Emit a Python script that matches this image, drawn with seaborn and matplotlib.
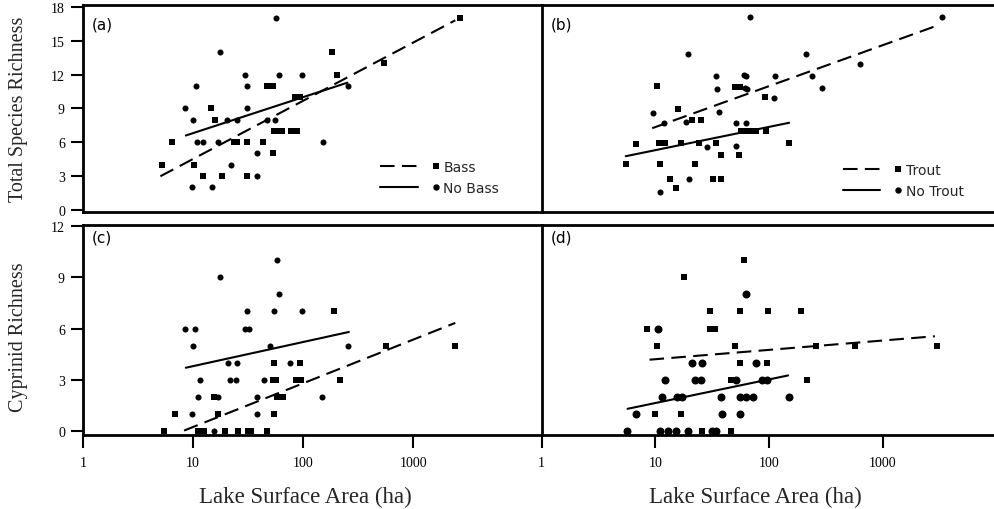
import numpy as np
import pandas as pd
import matplotlib
matplotlib.use("Agg")
import matplotlib.pyplot as plt
import seaborn as sns
from matplotlib.lines import Line2D
from matplotlib.legend_handler import HandlerBase
from matplotlib.ticker import FixedLocator, NullLocator, FixedFormatter

# ---------------- data ----------------
# Panel (a): total species richness, Bass (squares) / No Bass (circles)
a_bass_x = [5.2, 6.4, 10.3, 12.4, 14.7, 15.9, 18.3, 23.4, 25.1, 30.9, 30.9, 43.7, 46.6,
            52.8, 52.8, 53.9, 58.6, 65, 77.4, 89, 84.7, 93.4, 182, 205, 542, 2690]
a_bass_y = [4, 6, 4, 3, 9, 8, 3, 6, 6, 6, 3, 6, 11, 11, 5, 7, 7, 7, 7, 7, 10, 10, 14, 12, 13, 17]
a_nobass_x = [9.8, 8.5, 10.1, 10.6, 10.8, 12.2, 14.9, 17.6, 17.0, 20.3, 22.1, 25.1, 29.8,
              30.9, 30.9, 37.8, 37.8, 46.6, 55.7, 56.5, 60.6, 98.8, 152, 256]
a_nobass_y = [2, 9, 8, 11, 6, 6, 2, 14, 6, 8, 4, 8, 12, 11, 9, 5, 3, 8, 8, 17, 12, 12, 6, 11]
a_fit_bass_x, a_fit_bass_y = [5.05, 2420], [2.97, 16.82]
a_fit_nobass_x, a_fit_nobass_y = [8.6, 253], [6.59, 11.28]

# Panel (b): total species richness, Trout (squares) / No Trout (circles)
b_trout_x = [5.5, 6.8, 10.4, 11.1, 10.8, 12.1, 13.4, 15.1, 15.8, 16.9, 21.0, 22.5, 25.4, 24.2,
             32.1, 38.0, 34.4, 38.0, 54.4, 49.8, 55.1, 57.0, 63.0, 69.8, 77.3, 94.6, 91.5, 150]
b_trout_y = [4.1, 5.8, 11.0, 4.1, 5.9, 5.9, 2.7, 1.9, 8.9, 5.9, 8.0, 4.1, 8.0, 5.9,
             2.7, 2.7, 5.9, 4.9, 4.9, 10.9, 10.9, 7.0, 7.0, 7.0, 7.0, 7.0, 10.0, 5.9]
b_notrout_x = [9.5, 11.9, 11.1, 18.7, 19.4, 19.6, 28.5, 33.9, 34.8, 36.0, 51.5, 51.5, 60.1,
               63.0, 61.0, 64.0, 63.0, 67.5, 110, 112, 210, 238, 292, 626, 3275]
b_notrout_y = [8.6, 7.7, 1.6, 7.8, 13.8, 2.7, 5.6, 11.9, 10.7, 8.7, 7.7, 5.7, 12.0,
               11.9, 10.8, 10.7, 7.7, 17.1, 9.9, 11.9, 13.8, 11.9, 10.8, 12.9, 17.1]
b_fit_trout_x, b_fit_trout_y = [9.4, 3170], [7.24, 16.44]
b_fit_notrout_x, b_fit_notrout_y = [5.5, 150], [4.75, 7.72]

# Panel (c): cyprinid richness, Bass / No Bass
c_bass_x = [5.4, 6.8, 11.0, 12.7, 15.4, 17.0, 19.5, 25.4, 31.3, 34.0, 46.6, 54.0, 54.6,
            52.8, 56.5, 57.8, 66.4, 94.0, 87.0, 95.3, 191, 216, 562, 2420]
c_bass_y = [0, 1, 0, 0, 2, 1, 0, 0, 0, 0, 0, 1, 4, 3, 3, 2, 2, 4, 3, 3, 7, 3, 5, 5]
c_nobass_x = [8.5, 10.4, 10.1, 9.8, 11.0, 11.6, 15.4, 17.0, 17.7, 20.6, 24.9, 21.8, 24.5,
              29.8, 32.4, 30.9, 37.8, 37.8, 44.3, 50.2, 53.9, 57.8, 60.6, 76.2, 98.8, 150, 258]
c_nobass_y = [6, 6, 5, 1, 2, 3, 0, 2, 9, 4, 4, 3, 3, 6, 6, 7, 2, 1, 3, 5, 7, 10, 8, 4, 7, 2, 5]
c_fit_bass_x, c_fit_bass_y = [8.3, 2420], [0.04, 6.33]
c_fit_nobass_x, c_fit_nobass_y = [8.6, 261], [3.71, 5.80]

# Panel (d): cyprinid richness, Trout / No Trout
d_trout_x = [8.4, 10.4, 10.0, 16.7, 17.7, 25.9, 30.0, 30.0, 33.2, 46.0, 50.5, 46.0, 56.0,
             60.2, 56.0, 97.8, 96.6, 192, 216, 257, 566, 2960]
d_trout_y = [6, 5, 1, 1, 9, 0, 7, 6, 6, 0, 5, 3, 7, 10, 4, 7, 4, 7, 3, 5, 5, 5]
d_notrout_x = [5.6, 6.7, 10.5, 11.5, 12.1, 11.1, 12.9, 15.3, 19.4, 15.5, 17.3, 21.0, 25.7,
               22.5, 25.0, 31.7, 34.4, 38.0, 38.8, 51.6, 56.0, 62.3, 72.2, 56.0, 62.3, 76.2,
               87.3, 96.6, 150]
d_notrout_y = [0, 1, 6, 2, 3, 0, 0, 0, 0, 2, 2, 4, 4, 3, 3, 0, 0, 2, 1, 3, 2, 2, 2, 1, 8, 4,
               3, 3, 2]
d_fit_trout_x, d_fit_trout_y = [8.9, 2860], [4.18, 5.55]
d_fit_notrout_x, d_fit_notrout_y = [5.7, 147], [1.31, 3.26]

x_ticks = [1, 10, 100, 1000]
x_tick_labels = ["1", "10", "100", "1000"]
top_y_ticks = [0, 3, 6, 9, 12, 15, 18]
bottom_y_ticks = [0, 3, 6, 9, 12]
panel_letters = ["(a)", "(b)", "(c)", "(d)"]
legend_labels_a = ["Bass", "No Bass"]
legend_labels_b = ["Trout", "No Trout"]
y_label_top = "Total Species Richness"
y_label_bottom = "Cyprinid Richness"
x_label = "Lake Surface Area (ha)"

# ---------------- style ----------------
sns.set_style("ticks")
plt.rcParams["font.family"] = ["Liberation Serif", "DejaVu Serif"]
SANS = "DejaVu Sans"
DASH = (0, (7, 3.5))
LW = 1.5

fig = plt.figure(figsize=(9.94, 5.10), dpi=100)
W, H = 994.0, 510.0


def rect(x0, x1, ytop, ybot):
    return [x0 / W, (H - ybot) / H, (x1 - x0) / W, (ybot - ytop) / H]


ax_a = fig.add_axes(rect(83, 541.5, 6, 212.5))
ax_b = fig.add_axes(rect(541.5, 994, 6, 212.5))
ax_c = fig.add_axes(rect(83, 541.5, 226, 436))
ax_d = fig.add_axes(rect(541.5, 994, 226, 436))


class LegendKey:
    def __init__(self, ls, marker, ms):
        self.ls, self.marker, self.ms = ls, marker, ms


class KeyHandler(HandlerBase):
    def create_artists(self, legend, orig, xdescent, ydescent, width, height, fontsize, trans):
        y = (height - ydescent) / 2.0
        x0 = -xdescent
        ln = Line2D([x0, x0 + 0.63 * width], [y, y], color="black", lw=LW, linestyle=orig.ls)
        mk = Line2D([x0 + 0.93 * width], [y], marker=orig.marker, ms=orig.ms,
                    color="black", markeredgewidth=0, linestyle="none")
        ln.set_transform(trans)
        mk.set_transform(trans)
        return [ln, mk]


def draw_panel(ax, sq_x, sq_y, ci_x, ci_y, dash_x, dash_y, sol_x, sol_y, sq_s, ci_s):
    ax.set_xscale("log")
    sns.scatterplot(data=pd.DataFrame({"x": sq_x, "y": sq_y}), x="x", y="y", marker="s",
                    s=sq_s, color="black", linewidth=0, ax=ax, legend=False, zorder=3)
    sns.scatterplot(data=pd.DataFrame({"x": ci_x, "y": ci_y}), x="x", y="y", marker="o",
                    s=ci_s, color="black", linewidth=0, ax=ax, legend=False, zorder=3)
    sns.lineplot(x=dash_x, y=dash_y, color="black", lw=LW, linestyle=DASH, ax=ax,
                 estimator=None, sort=False, legend=False)
    sns.lineplot(x=sol_x, y=sol_y, color="black", lw=LW, linestyle="-", ax=ax,
                 estimator=None, sort=False, legend=False)
    ax.set_xlabel("")
    ax.set_ylabel("")
    for side in ["top", "left", "bottom"]:
        ax.spines[side].set_linewidth(2.0)
        ax.spines[side].set_color("black")
    ax.spines["right"].set_visible(False)
    ax.xaxis.set_major_locator(FixedLocator(x_ticks))
    ax.xaxis.set_major_formatter(FixedFormatter(x_tick_labels))
    ax.xaxis.set_minor_locator(NullLocator())
    ax.tick_params(axis="both", which="major", direction="out", length=9, width=1.5,
                   color="black", labelsize=10, labelcolor="black")
    ax.tick_params(axis="y", pad=4)
    ax.tick_params(axis="x", pad=6)


draw_panel(ax_a, a_bass_x, a_bass_y, a_nobass_x, a_nobass_y,
           a_fit_bass_x, a_fit_bass_y, a_fit_nobass_x, a_fit_nobass_y, 17, 19)
draw_panel(ax_b, b_trout_x, b_trout_y, b_notrout_x, b_notrout_y,
           b_fit_trout_x, b_fit_trout_y, b_fit_notrout_x, b_fit_notrout_y, 17, 19)
draw_panel(ax_c, c_bass_x, c_bass_y, c_nobass_x, c_nobass_y,
           c_fit_bass_x, c_fit_bass_y, c_fit_nobass_x, c_fit_nobass_y, 17, 19)
draw_panel(ax_d, d_trout_x, d_trout_y, d_notrout_x, d_notrout_y,
           d_fit_trout_x, d_fit_trout_y, d_fit_notrout_x, d_fit_notrout_y, 13, 33)

# axis limits / ticks
for ax in (ax_a, ax_c):
    ax.set_xlim(1, 14700)
for ax in (ax_b, ax_d):
    ax.set_xlim(1, 9470)
    ax.tick_params(axis="y", left=False, labelleft=False)
for ax in (ax_a, ax_b):
    ax.set_ylim(-0.16, 18.18)
    ax.set_yticks(top_y_ticks)
    ax.tick_params(axis="x", bottom=False, labelbottom=False)
for ax in (ax_c, ax_d):
    ax.set_ylim(-0.22, 12.05)
    ax.set_yticks(bottom_y_ticks)

# axis labels
ax_a.set_ylabel(y_label_top, fontsize=14.5)
ax_a.yaxis.set_label_coords(-0.12, 0.5)
ax_c.set_ylabel(y_label_bottom, fontsize=14.5)
ax_c.yaxis.set_label_coords(-0.12, 0.47)
ax_c.set_xlabel(x_label, fontsize=16.5)
ax_c.xaxis.set_label_coords(0.486, -0.243)
ax_d.set_xlabel(x_label, fontsize=16.5)
ax_d.xaxis.set_label_coords(0.472, -0.243)

# panel letters
for ax, letter, yy in zip((ax_a, ax_b, ax_c, ax_d), panel_letters, (0.908, 0.908, 0.943, 0.943)):
    ax.text(0.02, yy, letter, transform=ax.transAxes, family=SANS, fontsize=11,
            ha="left", va="center", color="black")

# legends
hmap = {LegendKey: KeyHandler()}
keys = [LegendKey(DASH, "s", 4.2), LegendKey("-", "o", 4.6)]
for ax, labels, anchor in ((ax_a, legend_labels_a, (0.648, 0.25)),
                           (ax_b, legend_labels_b, (0.666, 0.237))):
    ax.legend(keys, labels, handler_map=hmap, loc="upper left", bbox_to_anchor=anchor,
              frameon=False, borderpad=0, borderaxespad=0, handlelength=4.3,
              handletextpad=0.25, labelspacing=0.5,
              prop={"family": SANS, "size": 10})

fig.savefig("out.png", dpi=100, facecolor="white")
